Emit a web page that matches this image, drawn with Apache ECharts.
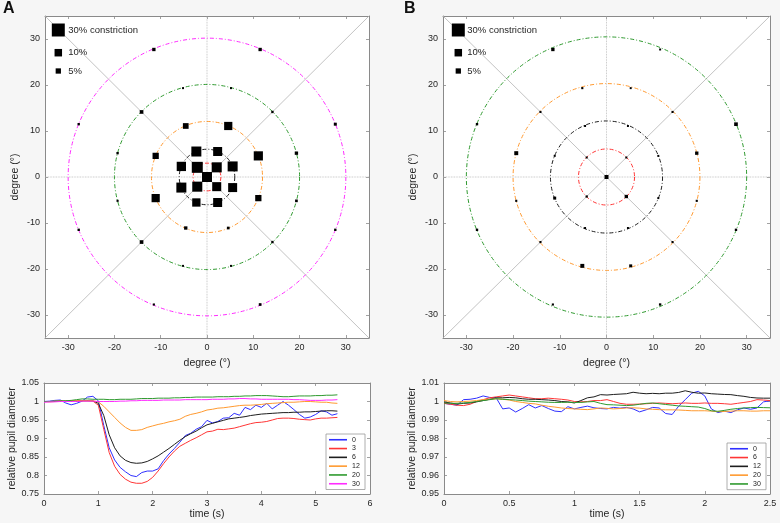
<!DOCTYPE html>
<html><head><meta charset="utf-8">
<script src="https://cdn.jsdelivr.net/npm/echarts@6/dist/echarts.min.js"></script>
<style>html,body{margin:0;padding:0;background:#f6f6f6}#c{width:780px;height:523px}</style>
</head><body><div id="c"></div><script>
// ---------------- DATA ----------------
const DEG_MIN = -35, DEG_MAX = 35;
const TICKS_DEG = [-30,-20,-10,0,10,20,30];
const TICKS_TIME_A = [0,1,2,3,4,5,6];
const TICKS_PUPIL_A = [0.75,0.8,0.85,0.9,0.95,1,1.05];
const TICKS_TIME_B = [0,0.5,1,1.5,2,2.5];
const TICKS_PUPIL_B = [0.95,0.96,0.97,0.98,0.99,1,1.01];

const RING_RADII_A = [3,6,12,20,30];
const RING_RADII_B = [6,12,20,30];

const SIZE_KEY_VALUES = [30,10,5];
const SIZE_KEY_LABELS = ['30% constriction','10%','5%'];

// panel A points: x (deg), y (deg), constriction (%)
const PTS_A_X = [0, 2.1,-2.1,-2.1,2.1, 5.54,2.30,-2.30,-5.54,-5.54,-2.30,2.30,5.54, 11.09,4.59,-4.59,-11.09,-11.09,-4.59,4.59,11.09, 19.32,14.14,5.18,-5.18,-14.14,-19.32,-19.32,-14.14,-5.18,5.18,14.14,19.32, 27.72,11.48,-11.48,-27.72,-27.72,-11.48,11.48,27.72];
const PTS_A_Y = [0, 2.1,2.1,-2.1,-2.1, 2.30,5.54,5.54,2.30,-2.30,-5.54,-5.54,-2.30, 4.59,11.09,11.09,4.59,-4.59,-11.09,-11.09,-4.59, 5.18,14.14,19.32,19.32,14.14,5.18,-5.18,-14.14,-19.32,-19.32,-14.14,-5.18, 11.48,27.72,27.72,11.48,-11.48,-27.72,-27.72,-11.48];
const PTS_A_C = [18, 18,21.5,18,14.5, 17.8,14.4,17.8,15.4,17.8,12.3,14.4,14.4, 15,12,5.8,7,12,2,1.3,7, 2,1,0.7,0.7,2.4,1,0.8,2.4,0.7,0.7,1,1.3, 1.6,2,2,1,1,0.8,1.3,1];

// panel B points
const PTS_B_X = [0, 4.24,-4.24,-4.24,4.24, 11.09,4.59,-4.59,-11.09,-11.09,-4.59,4.59,11.09, 19.32,14.14,5.18,-5.18,-14.14,-19.32,-19.32,-14.14,-5.18,5.18,14.14,19.32, 27.72,11.48,-11.48,-27.72,-27.72,-11.48,11.48,27.72];
const PTS_B_Y = [0, 4.24,4.24,-4.24,-4.24, 4.59,11.09,11.09,4.59,-4.59,-11.09,-11.09,-4.59, 5.18,14.14,19.32,19.32,14.14,5.18,-5.18,-14.14,-19.32,-19.32,-14.14,-5.18, 11.48,27.72,27.72,11.48,-11.48,-27.72,-27.72,-11.48];
const PTS_B_C = [2.8, 0.7,0.7,0.9,2, 0.7,0.7,0.7,0.7,1.6,0.7,0.7,0.7, 2,0.8,0.7,0.8,0.8,2.8,0.8,0.8,2.8,1.6,0.8,0.8, 2.4,0.7,2,1,1,0.8,1,1];

// bottom-left traces
const TIME_A = [0.0,0.1,0.2,0.3,0.4,0.5,0.6,0.7,0.8,0.9,1.0,1.1,1.2,1.3,1.4,1.5,1.6,1.7,1.8,1.9,2.0,2.1,2.2,2.3,2.4,2.5,2.6,2.7,2.8,2.9,3.0,3.1,3.2,3.3,3.4,3.5,3.6,3.7,3.8,3.9,4.0,4.1,4.2,4.3,4.4,4.5,4.6,4.7,4.8,4.9,5.0,5.1,5.2,5.3,5.4];
const NAMES_A = ['0','3','6','12','20','30'];
const A_0 = [1.000,1.001,1.003,1.004,0.996,0.991,0.995,1.001,1.012,1.014, 1.002,0.935,0.875,0.842,0.822,0.810,0.800,0.797,0.808,0.812, 0.812,0.818,0.840,0.858,0.873,0.890,0.908,0.914,0.925,0.932, 0.949,0.942,0.946,0.955,0.956,0.968,0.963,0.984,0.978,0.990, 0.984,0.995,0.980,0.990,1.000,0.990,0.978,0.965,0.955,0.958, 0.965,0.975,0.972,0.963,0.967];
const A_3 = [1.000,0.999,1.000,1.001,1.000,1.001,1.001,1.002,1.002,1.001, 0.990,0.925,0.862,0.825,0.803,0.790,0.782,0.779,0.779,0.784, 0.795,0.812,0.832,0.850,0.866,0.879,0.887,0.895,0.902,0.910, 0.918,0.920,0.925,0.924,0.926,0.928,0.932,0.936,0.940,0.943, 0.944,0.946,0.950,0.954,0.955,0.955,0.954,0.952,0.951,0.950, 0.953,0.955,0.955,0.956,0.957];
const A_6 = [1.000,1.000,1.000,1.001,1.001,1.001,1.001,1.002,1.002,1.002, 0.995,0.962,0.910,0.875,0.853,0.841,0.835,0.833,0.834,0.838, 0.845,0.853,0.863,0.873,0.884,0.895,0.905,0.913,0.920,0.929, 0.937,0.941,0.945,0.949,0.953,0.955,0.957,0.959,0.962,0.964, 0.966,0.967,0.968,0.969,0.970,0.970,0.971,0.971,0.972,0.972, 0.973,0.974,0.975,0.975,0.974];
const A_12 = [1.000,1.000,1.001,1.001,1.001,1.002,1.002,1.002,1.002,1.002, 0.999,0.987,0.972,0.957,0.942,0.930,0.922,0.922,0.924,0.930, 0.934,0.938,0.941,0.945,0.948,0.952,0.960,0.965,0.968,0.972, 0.977,0.979,0.982,0.983,0.985,0.987,0.989,0.990,0.990,0.991, 0.992,0.994,0.995,0.996,0.997,0.998,0.998,0.999,1.000,1.000, 0.999,0.998,0.998,0.996,0.995];
const A_20 = [1.000,1.000,1.001,1.001,1.002,1.003,1.005,1.007,1.007,1.006, 1.006,1.006,1.005,1.005,1.006,1.006,1.006,1.007,1.008,1.008, 1.008,1.009,1.009,1.009,1.010,1.010,1.011,1.011,1.012,1.012, 1.012,1.012,1.013,1.013,1.013,1.014,1.014,1.015,1.015,1.016, 1.016,1.016,1.015,1.014,1.013,1.013,1.014,1.015,1.015,1.015, 1.016,1.016,1.017,1.017,1.018];
const A_30 = [0.998,0.999,0.999,1.000,1.000,1.000,1.000,1.001,1.001,1.001, 1.000,1.000,1.000,1.000,1.001,1.001,1.002,1.002,1.003,1.003, 1.003,1.003,1.004,1.004,1.004,1.004,1.005,1.005,1.005,1.005, 1.005,1.006,1.006,1.006,1.007,1.007,1.008,1.008,1.007,1.007, 1.006,1.006,1.006,1.006,1.006,1.006,1.005,1.005,1.004,1.003, 1.003,1.003,1.004,1.004,1.005];

// bottom-right traces
const TIME_B = [0,0.05,0.1,0.15,0.2,0.25,0.3,0.35,0.4,0.45,0.5,0.55,0.6,0.65,0.7,0.75,0.8,0.85,0.9,0.95,1.0,1.05,1.1,1.15,1.2,1.25,1.3,1.35,1.4,1.45,1.5,1.55,1.6,1.65,1.7,1.75,1.8,1.85,1.9,1.95,2.0,2.05,2.1,2.15,2.2,2.25,2.3,2.35,2.4,2.45,2.5];
const NAMES_B = ['0','6','12','20','30'];
const B_0 = [0.9990,0.9985,0.9980,1.0010,1.0012,1.0018,1.0030,1.0022,1.0020,0.9960, 0.9965,0.9943,0.9962,0.9983,0.9965,0.9978,0.9962,0.9948,0.9945,0.9972, 0.9960,0.9968,0.9975,0.9966,0.9962,0.9960,0.9968,0.9964,0.9968,0.9960, 0.9944,0.9955,0.9968,0.9965,0.9935,0.9930,0.9975,1.0010,1.0045,1.0055, 1.0030,0.9960,0.9940,0.9948,0.9940,0.9955,0.9965,0.9958,0.9965,0.9998, 1.0004];
const B_6 = [0.9990,0.9985,0.9980,0.9978,0.9985,1.0000,1.0010,1.0020,1.0025,1.0030, 1.0035,1.0030,1.0025,1.0020,1.0015,1.0015,1.0018,1.0015,1.0012,1.0008, 1.0000,0.9998,1.0000,1.0005,1.0005,1.0010,1.0000,0.9990,0.9985,0.9985, 0.9986,0.9988,0.9990,0.9992,0.9990,0.9988,0.9990,0.9992,0.9990,0.9990, 0.9992,0.9990,0.9990,0.9988,0.9985,0.9990,0.9995,1.0000,1.0010,1.0008, 1.0005];
const B_12 = [0.9997,0.9992,0.9986,0.9990,0.9992,0.9998,1.0005,1.0012,1.0020,1.0020, 1.0022,1.0020,1.0015,1.0012,1.0012,1.0010,1.0008,1.0005,1.0000,0.9998, 0.9992,1.0005,1.0020,1.0025,1.0037,1.0035,1.0038,1.0040,1.0042,1.0050, 1.0045,1.0042,1.0044,1.0042,1.0045,1.0045,1.0049,1.0058,1.0050,1.0045, 1.0046,1.0042,1.0040,1.0038,1.0037,1.0032,1.0028,1.0022,1.0019,1.0018, 1.0018];
const B_20 = [1.0005,1.0000,0.9998,1.0000,1.0002,1.0005,1.0010,1.0012,1.0015,1.0012, 1.0008,1.0000,0.9995,0.9990,0.9987,0.9980,0.9974,0.9970,0.9965,0.9962, 0.9960,0.9958,0.9956,0.9960,0.9965,0.9963,0.9960,0.9962,0.9965,0.9966, 0.9964,0.9960,0.9958,0.9956,0.9955,0.9955,0.9954,0.9952,0.9950,0.9950, 0.9950,0.9948,0.9945,0.9946,0.9948,0.9950,0.9950,0.9948,0.9948,0.9950, 0.9950];
const B_30 = [0.9992,0.9990,0.9990,0.9992,0.9995,1.0000,1.0005,1.0010,1.0015,1.0012, 1.0010,1.0008,1.0005,1.0002,1.0000,0.9998,0.9996,0.9995,0.9995,0.9996, 0.9995,0.9995,0.9998,1.0000,0.9990,0.9983,0.9982,0.9980,0.9978,0.9980, 0.9985,0.9990,0.9992,0.9988,0.9984,0.9980,0.9976,0.9974,0.9972,0.9970, 0.9962,0.9950,0.9947,0.9952,0.9958,0.9962,0.9965,0.9967,0.9968,0.9967, 0.9966];

// ---------------- STYLE ----------------
const FONT = '"Liberation Sans", Arial, sans-serif';
const TXT = '#262626';
const AXC = '#8a8a8a';
const C_RED = '#ff3636', C_BLK = '#1e1e1e', C_ORA = '#ff9a30', C_GRN = '#2f9a2f', C_MAG = '#ff2cff', C_BLU = '#2f2fff';
const RING_COLORS_A = [C_RED, C_BLK, C_ORA, C_GRN, C_MAG];
const RING_COLORS_B = [C_RED, C_BLK, C_ORA, C_GRN];
const LINE_COLORS_A = [C_BLU, C_RED, C_BLK, C_ORA, C_GRN, C_MAG];
const LINE_COLORS_B = [C_BLU, C_RED, C_BLK, C_ORA, C_GRN];
const SIZE_K = 2.37; // px per sqrt(%)
const sz = c => SIZE_K * Math.sqrt(c);

const grids = [
  {left:45, top:16, width:324, height:322},
  {left:443, top:16, width:327, height:322},
  {left:44, top:383, width:326, height:111},
  {left:444, top:383, width:326, height:111}
].map(g => Object.assign({show:true, backgroundColor:'#ffffff', borderWidth:0, containLabel:false}, g));

function ax(gi, min, max, ticks, position, showLabel, name, nameGap) {
  return {
    type:'value', gridIndex:gi, min:min, max:max, position:position,
    name: name || '', nameLocation:'middle', nameGap: nameGap || 0,
    nameTextStyle:{fontSize:10.5, color:TXT, fontFamily:FONT},
    axisLine:{show:true, onZero:false, lineStyle:{color:AXC, width:1}},
    axisTick:{show:true, inside:true, length:3, customValues:ticks, lineStyle:{color:AXC, width:0.8}},
    axisLabel:{show:showLabel, customValues:ticks, fontSize:9, color:TXT, fontFamily:FONT, margin:5, showMinLabel:true, showMaxLabel:true},
    splitLine:{show:false}
  };
}

const xAxes = [
  ax(0, DEG_MIN, DEG_MAX, TICKS_DEG, 'bottom', true, 'degree (°)', 20),
  ax(0, DEG_MIN, DEG_MAX, TICKS_DEG, 'top', false),
  ax(1, DEG_MIN, DEG_MAX, TICKS_DEG, 'bottom', true, 'degree (°)', 20),
  ax(1, DEG_MIN, DEG_MAX, TICKS_DEG, 'top', false),
  ax(2, TICKS_TIME_A[0], TICKS_TIME_A[TICKS_TIME_A.length-1], TICKS_TIME_A, 'bottom', true, 'time (s)', 14),
  ax(2, TICKS_TIME_A[0], TICKS_TIME_A[TICKS_TIME_A.length-1], TICKS_TIME_A, 'top', false),
  ax(3, TICKS_TIME_B[0], TICKS_TIME_B[TICKS_TIME_B.length-1], TICKS_TIME_B, 'bottom', true, 'time (s)', 14),
  ax(3, TICKS_TIME_B[0], TICKS_TIME_B[TICKS_TIME_B.length-1], TICKS_TIME_B, 'top', false)
];
const yAxes = [
  ax(0, DEG_MIN, DEG_MAX, TICKS_DEG, 'left', true, 'degree (°)', 24),
  ax(0, DEG_MIN, DEG_MAX, TICKS_DEG, 'right', false),
  ax(1, DEG_MIN, DEG_MAX, TICKS_DEG, 'left', true, 'degree (°)', 24),
  ax(1, DEG_MIN, DEG_MAX, TICKS_DEG, 'right', false),
  ax(2, TICKS_PUPIL_A[0], TICKS_PUPIL_A[TICKS_PUPIL_A.length-1], TICKS_PUPIL_A, 'left', true, 'relative pupil diameter', 26),
  ax(2, TICKS_PUPIL_A[0], TICKS_PUPIL_A[TICKS_PUPIL_A.length-1], TICKS_PUPIL_A, 'right', false),
  ax(3, TICKS_PUPIL_B[0], TICKS_PUPIL_B[TICKS_PUPIL_B.length-1], TICKS_PUPIL_B, 'left', true, 'relative pupil diameter', 26),
  ax(3, TICKS_PUPIL_B[0], TICKS_PUPIL_B[TICKS_PUPIL_B.length-1], TICKS_PUPIL_B, 'right', false)
];

const series = [];
function polarPanel(axisIdx, radii, colors, px, py, pc) {
  const ref = [
    {d:[[DEG_MIN,DEG_MIN],[DEG_MAX,DEG_MAX]], t:'solid'},
    {d:[[DEG_MIN,DEG_MAX],[DEG_MAX,DEG_MIN]], t:'solid'},
    {d:[[0,DEG_MIN],[0,DEG_MAX]], t:'dotted'},
    {d:[[DEG_MIN,0],[DEG_MAX,0]], t:'dotted'}
  ];
  ref.forEach(r => series.push({
    type:'line', xAxisIndex:axisIdx, yAxisIndex:axisIdx, data:r.d, symbol:'none', silent:true, z:1,
    lineStyle:{color:'#b4b4b4', width:0.8, type:r.t}
  }));
  series.push({
    type:'custom', xAxisIndex:axisIdx, yAxisIndex:axisIdx, z:2, silent:true,
    data: radii.map((r,i)=>[r, i]),
    encode:{x:-1, y:-1},
    renderItem:(params, api) => {
      const r = api.value(0), i = api.value(1);
      const c = api.coord([0,0]);
      const s = api.size([r, r]);
      return {type:'circle', shape:{cx:c[0], cy:c[1], r:s[0]},
        style:{fill:null, stroke:colors[i], lineWidth:1, lineDash:[4,2,1,2]}};
    }
  });
  series.push({
    type:'scatter', xAxisIndex:axisIdx, yAxisIndex:axisIdx, z:5, symbol:'rect',
    data: px.map((x,i)=>[x, py[i], pc[i]]),
    symbolSize: v => sz(v[2]),
    itemStyle:{color:'#000', opacity:1}
  });
}
polarPanel(0, RING_RADII_A, RING_COLORS_A, PTS_A_X, PTS_A_Y, PTS_A_C);
polarPanel(2, RING_RADII_B, RING_COLORS_B, PTS_B_X, PTS_B_Y, PTS_B_C);

[A_0, A_3, A_6, A_12, A_20, A_30].forEach((vals, i) => series.push({
  type:'line', name:NAMES_A[i], xAxisIndex:4, yAxisIndex:4, symbol:'none', z:3,
  data: TIME_A.map((t,k)=>[t, vals[k]]),
  lineStyle:{color:LINE_COLORS_A[i], width:1}, itemStyle:{color:LINE_COLORS_A[i]}
}));
[B_0, B_6, B_12, B_20, B_30].forEach((vals, i) => series.push({
  type:'line', name:'B:' + NAMES_B[i], xAxisIndex:6, yAxisIndex:6, symbol:'none', z:3,
  data: TIME_B.map((t,k)=>[t, vals[k]]),
  lineStyle:{color:LINE_COLORS_B[i], width:1}, itemStyle:{color:LINE_COLORS_B[i]}
}));

const legendBase = {
  orient:'vertical', selectedMode:false, icon:'rect', itemWidth:18, itemHeight:1.6, itemGap:1.3,
  padding:[2,3,2,3], backgroundColor:'#ffffff', borderColor:'#9a9a9a', borderWidth:0.8, borderRadius:0,
  textStyle:{fontSize:7, color:'#222', fontFamily:FONT, width:10, align:'right', lineHeight:7.5}
};
const legends = [
  Object.assign({}, legendBase, {left:326, top:434, data:NAMES_A}),
  Object.assign({}, legendBase, {left:727, top:443, data:NAMES_B.map(n=>'B:'+n), formatter: n => n.split(':')[1]})
];

const graphic = [];
[[58.3, 68.3, 'A', 3], [458.3, 467.3, 'B', 404]].forEach(([sqX, txX, letter, lx]) => {
  graphic.push({type:'text', x:lx, y:1, style:{text:letter, font:'bold 16px ' + FONT, fill:'#111'}});
  const keyY = [30, 52.7, 71];
  SIZE_KEY_VALUES.forEach((v, i) => {
    const s = sz(v);
    graphic.push({type:'rect', shape:{x:sqX - s/2, y:keyY[i] - s/2, width:s, height:s}, style:{fill:'#000'}, z:10});
    graphic.push({type:'text', x:txX, y:keyY[i], style:{text:SIZE_KEY_LABELS[i], font:'9.5px ' + FONT, fill:TXT, verticalAlign:'middle'}, z:10});
  });
});

const chart = echarts.init(document.getElementById('c'), null, {renderer:'canvas'});
chart.setOption({
  animation:false,
  backgroundColor:'#f6f6f6',
  grid: grids,
  xAxis: xAxes,
  yAxis: yAxes,
  legend: legends,
  graphic: graphic,
  series: series
});
</script></body></html>
